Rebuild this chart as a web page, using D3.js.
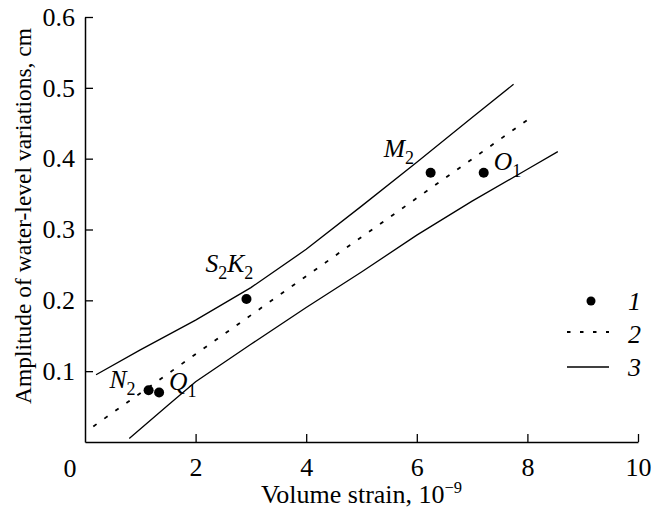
<!DOCTYPE html>
<html><head><meta charset="utf-8">
<script src="https://cdn.jsdelivr.net/npm/d3@7/dist/d3.min.js"></script>
</head>
<body style="margin:0;background:#fff">
<svg id="c" width="663" height="508"></svg>
<script>
// ---- data ----
const pointNames = ["N", "Q", "S2K", "M", "O"];
const pointSubs  = ["2", "1", "2", "2", "1"];
const pointX = [1.15, 1.34, 2.92, 6.25, 7.21];
const pointY = [0.073, 0.070, 0.202, 0.380, 0.380];

const regX = [0.15, 8.08];
const regY = [0.022, 0.459];

const upperX = [0.2, 1, 2, 3, 4, 5, 6, 7, 7.75];
const upperY = [0.095, 0.130, 0.172, 0.218, 0.272, 0.333, 0.395, 0.458, 0.505];

const lowerX = [0.8, 1.5, 2, 3, 4, 5, 6, 7, 8, 8.55];
const lowerY = [0.005, 0.052, 0.085, 0.138, 0.190, 0.240, 0.292, 0.340, 0.385, 0.410];

const xTicks = [2, 4, 6, 8, 10];
const yTicks = [0.1, 0.2, 0.3, 0.4, 0.5, 0.6];
const legendLabels = ["1", "2", "3"];

// warm up the serif font
const warm = document.createElement("canvas").getContext("2d");
["26px 'Liberation Serif'", "italic 26px 'Liberation Serif'"].forEach(f => { warm.font = f; warm.measureText("Volume strain 0.6 NQMO"); });

// ---- layout ----
const serif = s => s.style("font-family", "'Liberation Serif'");
const svg = d3.select("#c");
const x = d3.scaleLinear().domain([0, 10]).range([85, 638]);
const y = d3.scaleLinear().domain([0, 0.6]).range([442, 17]);

// axes
const gx = svg.append("g").attr("transform", `translate(0,${y(0)})`)
  .call(d3.axisBottom(x).tickValues(xTicks).tickSizeInner(-8).tickSizeOuter(0).tickPadding(16).tickFormat(d3.format("d")));
const gy = svg.append("g").attr("transform", `translate(${x(0)},0)`)
  .call(d3.axisLeft(y).tickValues(yTicks).tickSizeInner(-8).tickSizeOuter(0).tickPadding(10).tickFormat(d3.format(".1f")));
[gx, gy].forEach(g => {
  g.attr("font-family", null).attr("font-size", 26);
  g.selectAll("path.domain").attr("stroke", "#000").attr("stroke-width", 1.5);
  g.selectAll(".tick line").attr("stroke", "#000").attr("stroke-width", 1.3);
  serif(g.selectAll(".tick text")).attr("fill", "#000").attr("font-size", 26);
});
// shared origin label
serif(svg.append("text")).attr("x", 70).attr("y", 477).attr("text-anchor", "middle")
  .attr("font-size", 26).text("0");

// axis titles
const xt = serif(svg.append("text")).attr("x", x(5)).attr("y", 503).attr("text-anchor", "middle").attr("font-size", 26);
xt.append("tspan").text("Volume strain, 10");
xt.append("tspan").attr("font-size", 16.5).attr("dy", -10).text("\u22129");

serif(svg.append("text")).attr("transform", "translate(23,216) rotate(-90)")
  .attr("text-anchor", "middle").attr("dominant-baseline", "central")
  .attr("font-size", 23.5).text("Amplitude of water-level variations, cm");

// confidence lines
const line = d3.line().x(d => x(d[0])).y(d => y(d[1]));
svg.append("path").datum(d3.zip(upperX, upperY)).attr("d", line)
  .attr("fill", "none").attr("stroke", "#000").attr("stroke-width", 1.3);
svg.append("path").datum(d3.zip(lowerX, lowerY)).attr("d", line)
  .attr("fill", "none").attr("stroke", "#000").attr("stroke-width", 1.3);
svg.append("path").datum(d3.zip(regX, regY)).attr("d", line)
  .attr("fill", "none").attr("stroke", "#000").attr("stroke-width", 1.8).attr("stroke-dasharray", "4,9.5");

// points
svg.selectAll("circle.pt").data(d3.range(pointX.length)).join("circle")
  .attr("class", "pt").attr("cx", i => x(pointX[i])).attr("cy", i => y(pointY[i])).attr("r", 5).attr("fill", "#000");

// point labels (layout offsets)
const labelOffset = [[-39, -2], [10, -2], [-41, -27], [-47, -16], [10, -3]];
pointNames.forEach((nm, i) => {
  const t = serif(svg.append("text")).attr("x", x(pointX[i]) + labelOffset[i][0]).attr("y", y(pointY[i]) + labelOffset[i][1])
    .attr("font-size", 25.5);
  if (nm === "S2K") {
    t.append("tspan").style("font-style", "italic").text("S");
    t.append("tspan").attr("font-size", 18).attr("dy", 7).text("2");
    t.append("tspan").style("font-style", "italic").attr("dy", -7).text("K");
  } else {
    t.append("tspan").style("font-style", "italic").text(nm);
  }
  t.append("tspan").attr("font-size", 18).attr("dy", 7).text(pointSubs[i]);
});

// legend
const lg = svg.append("g");
lg.append("circle").attr("cx", 591).attr("cy", 301).attr("r", 4.5).attr("fill", "#000");
lg.append("line").attr("x1", 567).attr("x2", 609).attr("y1", 332).attr("y2", 332)
  .attr("stroke", "#000").attr("stroke-width", 1.8).attr("stroke-dasharray", "3.5,9.5");
lg.append("line").attr("x1", 567).attr("x2", 609).attr("y1", 367).attr("y2", 367)
  .attr("stroke", "#000").attr("stroke-width", 1.3);
serif(lg.selectAll("text").data(legendLabels).join("text"))
  .attr("x", 628).attr("y", (d, i) => 310 + i * 33).attr("font-size", 26).style("font-style", "italic").text(d => d);
</script></body></html>
